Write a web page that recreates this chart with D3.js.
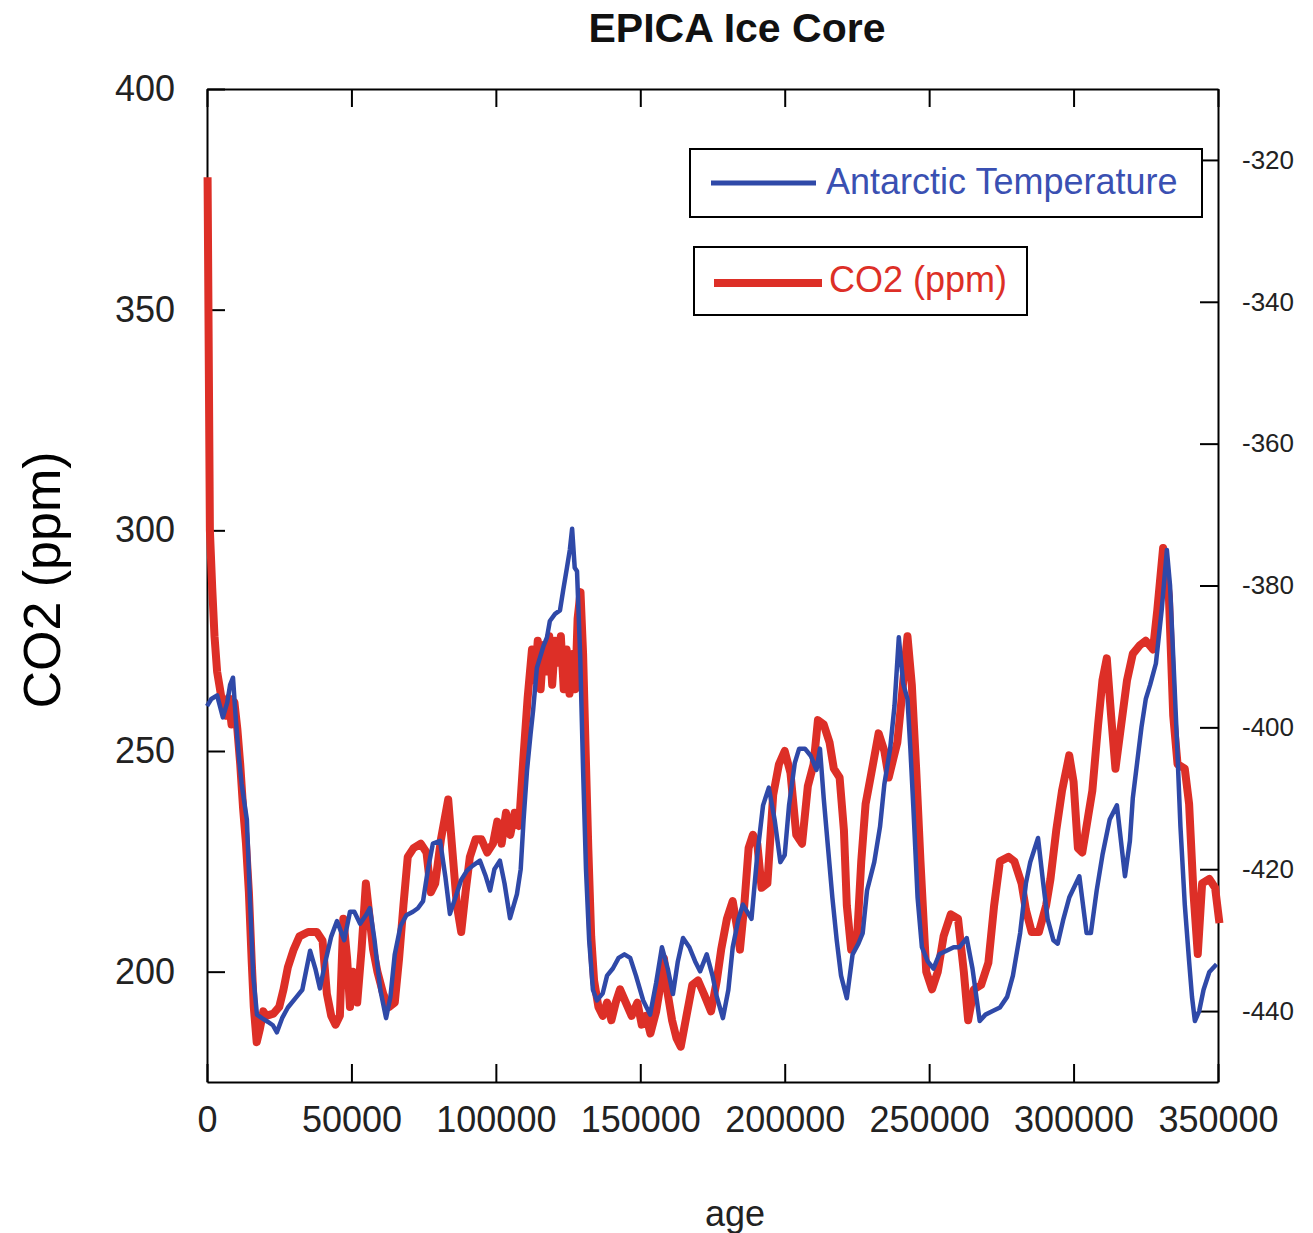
<!DOCTYPE html>
<html>
<head>
<meta charset="utf-8">
<script src="https://cdn.jsdelivr.net/npm/d3@7"></script>
<style>
body { margin: 0; background: #fff; }
text { font-family: "Liberation Sans", Arial, Helvetica, sans-serif; }
</style>
</head>
<body>
<div id="chart"></div>
<script>
// ages in years, CO2 in ppm
const co2Age = [200, 1000, 1800, 2600, 3500, 4500, 5500, 6500, 7500, 8500, 9500, 10500, 11500, 12500, 13500, 14500, 15500, 16200, 17200, 18300, 19500,
  20500, 23000, 25000, 26500, 28000, 30000, 32000, 35000, 38000, 40000, 41500, 43000, 44500, 46000, 47200, 48500, 49500, 50500, 52000, 53500,
  55000, 56000, 57500, 59000, 61000, 63000, 65000, 66500, 68000, 69500, 71500, 74000, 76000, 77500, 79000, 81000, 83500, 85000, 86500, 88000,
  89500, 91000, 93000, 95000, 97000, 99000, 100500, 102000, 103500, 105000, 106500, 108000, 109500, 111000, 112500, 113500, 114500, 115500,
  116500, 117500, 118500, 119500, 120500, 121500, 122500, 123500, 124500, 125500, 126500, 127500, 128300, 129300, 130200, 131000, 132000,
  133000, 134000, 135500, 137000, 138500, 140000, 141500, 143000, 145000, 147000, 149000, 150500, 152000, 153500, 155500, 157000, 158200,
  159500, 161000, 162500, 164000, 166000, 168000, 170000, 172000, 174500, 176500, 178000, 180000, 182000, 183500, 184500, 186000, 187500,
  189000, 190500, 192000, 194000, 196000, 198000, 200000, 202000, 204000, 206000, 208000, 210000, 211500, 213500, 215500, 217000, 219000,
  220500, 221500, 223000, 225000, 226500, 228000, 230000, 232500, 234500, 236000, 237500, 239000, 240500, 242500, 244000, 245500, 247000,
  249000, 251000, 253000, 255000, 257500, 260000, 262000, 263500, 265500, 268000, 270500, 272500, 274500, 277500, 279500, 282000, 283500,
  285500, 288000, 290500, 292000, 294000, 296000, 298500, 300000, 301500, 303000, 305000, 306500, 308500, 310000, 311500, 313000, 314500,
  316500, 318500, 320500, 323000, 325000, 327500, 329000, 331000, 333000, 334500, 336000, 338500, 340000, 341500, 343000, 344500, 347000,
  349000, 350500];
const co2Ppm = [380, 300, 287, 276, 268, 264, 260, 258, 262, 256, 261, 255, 247, 237, 229, 218, 202, 192, 184, 187, 191,
  190, 190.5, 192, 196, 201, 205, 208, 209, 209, 207, 195, 190, 188, 190, 212, 203, 192, 200, 193, 205,
  220, 214, 205, 200, 195, 192, 193, 203, 215, 226, 228, 229, 227, 218, 220, 230, 239, 227, 215, 209,
  218, 226, 230, 230, 227, 229, 234, 229, 236, 231, 236, 233, 248, 262, 273, 266, 275, 264,
  274, 268, 276, 265, 275, 270, 276, 264, 273, 263, 272, 264, 280, 286, 272, 252, 228,
  208, 198, 192, 190, 193, 189, 193, 196, 193, 190, 193, 188, 190, 186, 191, 197, 203,
  195, 189, 185, 183, 190, 197, 198, 195, 191, 198, 205, 212, 216, 210, 205, 215, 228,
  231, 229, 219, 220, 240, 247, 250, 245, 231, 229, 242, 247, 257, 256, 252, 246, 244,
  232, 215, 205, 207, 225, 238, 245, 254, 250, 244, 248, 252, 262, 276, 265, 246, 225,
  200, 196, 200, 208, 213, 212, 200, 189, 196, 197, 202, 215, 225, 226, 225, 220, 214,
  209, 209, 215, 221, 232, 241, 249, 243, 228, 227, 235, 241, 256, 266, 271, 258, 246,
  256, 266, 272, 274, 275, 273, 282, 296, 285, 258, 247, 246, 238, 218, 204, 220, 221,
  219, 211];

// ages in years, Antarctic temperature as deuterium (per mil)
const tempAge = [0, 1500, 3500, 5500, 7000, 8000, 9000, 10000, 11000, 12000, 13800, 14900, 16000, 17300, 19000, 21000, 22800, 24200, 26000,
  28000, 31000, 33000, 35700, 37500, 39100, 41000, 43000, 45000, 47500, 49500, 51000, 53000, 55000, 56400, 58000, 60000, 62000, 63500,
  65000, 67000, 69000, 71300, 73000, 74800, 76500, 78200, 80700, 82500, 84100, 86000, 88000, 90000, 92000, 94500, 96500, 98000, 99500,
  101400, 103000, 104900, 107300, 108600, 109600, 110800, 112000, 112900, 114200, 116500, 117700, 118700, 120500, 122200, 123300, 124600,
  125600, 126400, 127300, 128100, 129200, 130200, 131200, 132300, 133600, 135000, 137000, 138500, 140500, 142500, 144500, 146500, 148500,
  151000, 153400, 155500, 157500, 159500, 161300, 163000, 164800, 167000, 169000, 170700, 173000, 175000, 176500, 178600, 180500, 182000,
  184000, 185500, 187000, 188500, 190500, 192500, 194500, 196500, 198500, 200000, 201500, 203500, 205000, 207000, 209000, 211000, 212200,
  213500, 215000, 216500, 218000, 219500, 221500, 223500, 225500, 227000, 228500, 231000, 233000, 234500, 236500, 238000, 239500, 241000,
  242500, 243500, 244500, 246000, 247500, 249500, 251500, 253500, 256000, 258500, 260500, 263000, 265000, 267500, 269500, 272000, 274500,
  277000, 279000, 281500, 283500, 285000, 287700, 289500, 291000, 293000, 294500, 296500, 298500, 302000, 304500, 306000, 308000, 310000,
  312500, 315000, 317800, 319500, 320500, 322000, 323500, 325000, 326500, 328500, 330500, 332300, 333400, 334500, 335800, 337000, 338500,
  340000, 341000, 342000, 343500, 345000, 347000, 349500];
const tempDD = [-397, -396, -395.5, -398.6, -396.5, -394, -393, -399, -404, -408, -413, -424.5, -435, -440.5, -441, -441.5, -442, -443, -441,
  -439.5, -438, -437, -431.5, -434, -436.8, -433, -429.5, -427.3, -430, -426, -426, -427.7, -426.5, -425.5, -430, -437, -441, -438,
  -432, -428, -426.5, -426, -425.5, -424.5, -420, -416.4, -416, -421, -426.3, -424, -421.5, -420.2, -419.5, -418.8, -421, -423, -420,
  -418.8, -422, -426.9, -423.5, -420, -413, -406, -401, -397.6, -391.6, -388.5, -387.3, -385, -384, -383.5, -380.7, -377.5,
  -375, -372, -377.5, -378, -390, -406, -420, -430, -437, -438.5, -437.5, -435, -434, -432.5, -432, -432.5, -435,
  -438.5, -440.5, -436, -431, -434, -437.6, -433, -429.7, -431, -433, -434.4, -432, -435, -438, -441, -437, -431,
  -427, -425, -426, -427, -418, -411, -408.5, -413, -419, -418, -411, -405, -403, -403, -404, -406, -403,
  -410, -417, -424, -430, -435, -438.2, -432, -430.5, -429, -423, -419, -414, -408, -403, -397, -387.3, -393.8,
  -396, -403, -411, -424, -431, -433, -434, -432, -431.5, -431, -431, -429.7, -434, -441.4, -440.5, -440, -439.5,
  -438, -435, -429, -422, -419, -415.6, -422, -427, -430, -430.5, -427, -424, -421, -429, -429, -423, -418,
  -413, -411, -421, -416, -410, -405, -400, -396, -394, -391, -383.5, -375, -380, -390, -402, -414, -425,
  -433, -438, -441.4, -440, -437, -434.5, -433.4];

const xTicks = [0, 50000, 100000, 150000, 200000, 250000, 300000, 350000];
const co2Ticks = [200, 250, 300, 350, 400];
const tempTicks = [-440, -420, -400, -380, -360, -340, -320];

const W = 1313, H = 1233;
const margin = {top: 89, right: 95, bottom: 151, left: 207};
const width = W - margin.left - margin.right;
const height = H - margin.top - margin.bottom;
const red = "#dd2f27", blue = "#2f49a8";

const svg = d3.select("#chart").append("svg")
  .attr("width", W).attr("height", H);
const g = svg.append("g")
  .attr("transform", "translate(" + margin.left + "," + margin.top + ")");

const x = d3.scaleLinear().domain([0, 350000]).range([0, width]);
const yCo2 = d3.scaleLinear().domain([175, 400]).range([height, 0]);
const yTemp = d3.scaleLinear().domain([-450, -310]).range([height, 0]);

function styleAxis(sel, size) {
  sel.selectAll(".domain").attr("stroke", "#000").attr("stroke-width", 2);
  sel.selectAll(".tick line").attr("stroke", "#000").attr("stroke-width", 2);
  sel.selectAll(".tick text").attr("fill", "#222").style("font-size", size + "px");
}

const plain = d => String(d);   // hyphen minus, no thousands separator

g.append("g")
  .attr("transform", "translate(0," + height + ")")
  .call(d3.axisBottom(x).tickValues(xTicks).tickFormat(plain).tickSizeInner(-18).tickSizeOuter(0).tickPadding(24))
  .call(s => styleAxis(s, 36));
g.append("g")
  .call(d3.axisTop(x).tickValues(xTicks).tickFormat("").tickSizeInner(-18).tickSizeOuter(0))
  .call(s => styleAxis(s, 36));
g.append("g")
  .call(d3.axisLeft(yCo2).tickValues(co2Ticks).tickFormat(plain).tickSizeInner(-18).tickSizeOuter(0).tickPadding(32))
  .call(s => styleAxis(s, 36));
g.append("g")
  .attr("transform", "translate(" + width + ",0)")
  .call(d3.axisRight(yTemp).tickValues(tempTicks).tickFormat(plain).tickSizeInner(-18).tickSizeOuter(0).tickPadding(24))
  .call(s => styleAxis(s, 26));

// lines
const co2Line = d3.line().x((d, i) => x(co2Age[i])).y(d => yCo2(d));
const tempLine = d3.line().x((d, i) => x(tempAge[i])).y(d => yTemp(d));

g.append("path").datum(co2Ppm)
  .attr("fill", "none").attr("stroke", red).attr("stroke-width", 8)
  .attr("stroke-linejoin", "round")
  .attr("d", co2Line);
g.append("path").datum(tempDD)
  .attr("fill", "none").attr("stroke", blue).attr("stroke-width", 4.5)
  .attr("stroke-linejoin", "round")
  .attr("d", tempLine);

// legend boxes
const legend = [
  {label: "Antarctic Temperature", color: blue, text: "#3a50b2", w: 5, box: [690, 149, 512, 68], line: [711, 816], ly: 183, tx: 826, ty: 194},
  {label: "CO2 (ppm)", color: red, text: red, w: 8, box: [694, 247, 333, 68], line: [714, 822], ly: 283, tx: 829, ty: 292}
];
legend.forEach(l => {
  svg.append("rect").attr("x", l.box[0]).attr("y", l.box[1]).attr("width", l.box[2]).attr("height", l.box[3])
    .attr("fill", "#fff").attr("stroke", "#000").attr("stroke-width", 2);
  svg.append("line").attr("x1", l.line[0]).attr("x2", l.line[1]).attr("y1", l.ly).attr("y2", l.ly)
    .attr("stroke", l.color).attr("stroke-width", l.w);
  svg.append("text").attr("x", l.tx).attr("y", l.ty).attr("fill", l.text)
    .style("font-size", "36px").text(l.label);
});

// titles
svg.append("text").attr("x", 737).attr("y", 42).attr("text-anchor", "middle")
  .style("font-size", "41px").style("font-weight", "bold").attr("fill", "#111").text("EPICA Ice Core");
svg.append("text").attr("x", 735).attr("y", 1226).attr("text-anchor", "middle")
  .style("font-size", "36px").attr("fill", "#222").text("age");
svg.append("text").attr("transform", "translate(60,580) rotate(-90)").attr("text-anchor", "middle")
  .style("font-size", "52px").attr("fill", "#000").text("CO2 (ppm)");
</script>
</body>
</html>
